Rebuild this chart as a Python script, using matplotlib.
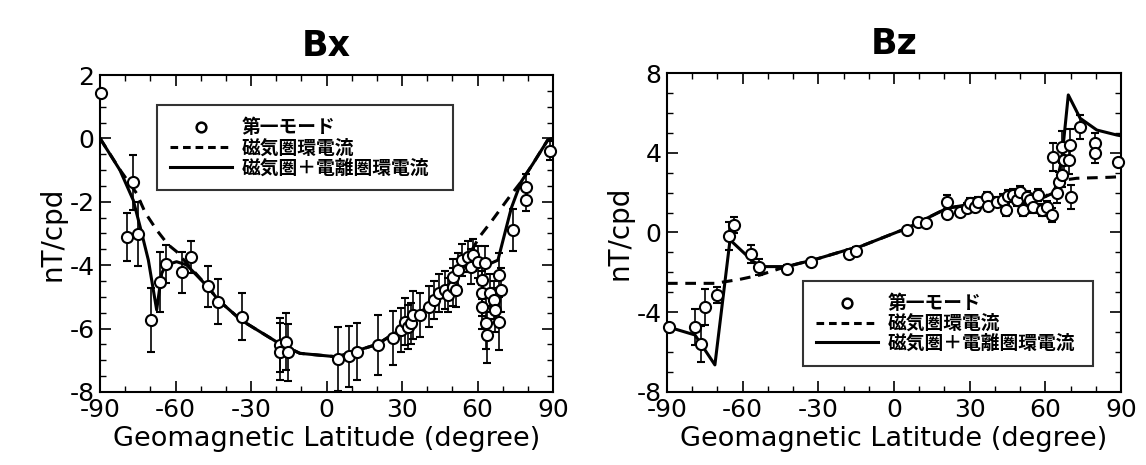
import matplotlib
matplotlib.use('Agg')
import matplotlib.pyplot as plt
from matplotlib.ticker import MultipleLocator
from matplotlib.lines import Line2D

plt.rcParams['font.family'] = ['DejaVu Sans', 'Noto Sans CJK JP']
plt.rcParams['axes.unicode_minus'] = False

# ---- Bx : observed first mode ----
bx_lat = [-89.5, -79.2, -77.1, -75.1, -69.9, -66.2, -63.9, -57.6, -53.9, -47.0,
          -43.0, -33.4, -18.6, -18.3, -16.2, -15.5, 4.6, 8.9, 11.9, 20.4,
          26.4, 29.7, 31.0, 32.4, 33.7, 34.3, 37.0, 40.9, 42.5, 44.7,
          46.9, 48.2, 50.2, 51.5, 50.2, 52.2, 53.9, 56.2, 58.2, 57.5,
          60.1, 62.8, 61.9, 61.9, 61.9, 63.4, 63.7, 65.0, 66.4, 66.8,
          68.7, 69.4, 68.7, 74.0, 79.3, 79.3, 88.8]
bx_val = [1.44, -3.12, -1.38, -3.02, -5.73, -4.52, -3.96, -4.22, -3.75, -4.66,
          -5.15, -5.62, -6.52, -6.73, -6.42, -6.75, -6.96, -6.88, -6.73, -6.52,
          -6.31, -6.04, -5.78, -5.94, -5.83, -5.57, -5.57, -5.31, -5.10, -4.89,
          -4.78, -4.94, -4.68, -4.78, -4.36, -4.15, -3.84, -3.73, -3.68, -4.05,
          -3.89, -3.94, -4.47, -4.89, -5.31, -5.83, -6.20, -4.89, -5.10, -5.41,
          -4.31, -4.78, -5.78, -2.89, -1.52, -1.94, -0.39]
bx_err = [0.0, 0.76, 0.87, 1.0, 1.0, 0.95, 0.6, 0.65, 0.5, 0.65,
          0.7, 0.75, 0.85, 0.9, 0.9, 0.9, 1.0, 0.95, 0.9, 0.95,
          0.85, 0.7, 0.75, 0.7, 0.65, 0.75, 0.7, 0.65, 0.6, 0.6,
          0.6, 0.55, 0.6, 0.55, 0.55, 0.55, 0.5, 0.5, 0.5, 0.55,
          0.5, 0.55, 0.6, 0.7, 0.7, 0.8, 0.9, 0.6, 0.6, 0.7,
          0.7, 0.7, 0.9, 0.65, 0.4, 0.35, 0.3]

# Bx model: magnetospheric ring current (dashed)
bx_mag_lat = [-90, -82, -75.5, -72, -67.5, -63, -59.6, -56, -47, -43, -34, -19, -10.6,
              4, 20, 30, 40, 50, 55, 60.8, 65.4, 72.7, 77.3, 82, 87.9, 90]
bx_mag_val = [0.0, -1.0, -1.73, -2.35, -2.89, -3.35, -3.57, -3.9, -4.7, -5.1, -5.73, -6.46, -6.78,
              -6.89, -6.5, -6.0, -5.3, -4.5, -3.9, -3.1, -2.63, -1.84, -1.37, -0.8, -0.05, 0.0]

# Bx model: magnetosphere + ionosphere ring current (solid)
bx_ion_lat = [-90, -82.1, -76.8, -74.1, -70.8, -68.6, -67.5, -65.5, -63.9, -59.6, -55.6, -47, -43,
              -34, -19, -10.6, 4, 20, 30, 40, 50, 55, 58, 62, 65, 68.1, 73.4, 77.3, 82, 87.9, 90]
bx_ion_val = [0.0, -1.0, -1.95, -2.78, -3.84, -4.89, -5.41, -4.26, -4.0, -3.89, -3.99, -4.7, -5.1,
              -5.73, -6.46, -6.78, -6.89, -6.5, -6.0, -5.3, -4.5, -4.0, -3.8, -3.85, -3.95, -3.84,
              -2.2, -1.37, -0.8, -0.05, 0.0]

# ---- Bz : observed first mode ----
bz_lat = [-89.1, -78.9, -76.7, -74.9, -70.3, -65.3, -63.4, -56.8, -53.4, -42.3,
          -33.0, -17.7, -15.1, 5.0, 9.7, 12.7, 20.9, 21.2, 26.2, 29.1,
          30.1, 32.1, 33.5, 36.8, 37.4, 40.7, 43.4, 44.4, 45.3, 47.3,
          48.7, 50.0, 51.3, 52.6, 54.0, 55.3, 57.2, 58.6, 60.5, 62.5,
          64.5, 65.6, 62.9, 66.5, 67.2, 69.5, 69.8, 66.5, 70.1, 73.8,
          79.7, 79.7, 89.0]
bz_val = [-4.75, -4.72, -5.59, -3.72, -3.13, -0.17, 0.38, -1.08, -1.75, -1.85,
          -1.46, -1.08, -0.93, 0.13, 0.54, 0.49, 1.55, 0.93, 1.05, 1.21,
          1.46, 1.30, 1.55, 1.76, 1.33, 1.55, 1.63, 1.13, 1.83, 1.88,
          1.63, 2.05, 1.13, 1.76, 1.63, 1.30, 1.88, 1.13, 1.30, 0.88,
          1.97, 2.55, 3.80, 4.31, 3.64, 3.64, 4.39, 2.88, 1.80, 5.31,
          4.47, 4.00, 3.55]
bz_err = [0.0, 0.9, 0.9, 0.9, 0.4, 0.7, 0.4, 0.45, 0.4, 0.2,
          0.15, 0.2, 0.2, 0.15, 0.15, 0.15, 0.35, 0.2, 0.2, 0.25,
          0.25, 0.25, 0.25, 0.25, 0.25, 0.25, 0.3, 0.3, 0.3, 0.3,
          0.3, 0.3, 0.3, 0.3, 0.3, 0.3, 0.3, 0.3, 0.3, 0.35,
          0.5, 0.5, 0.7, 0.8, 0.8, 0.7, 0.8, 0.6, 0.6, 0.6,
          0.5, 0.5, 0.0]

# Bz model: magnetospheric ring current (dashed)
bz_mag_lat = [-90, -71, -61.1, -53.1, -45, -37.3, -32, -18.8, -13.5, 5, 20.9, 39.4, 52.6,
              60, 64, 68.5, 72.4, 85.5, 90]
bz_mag_val = [-2.55, -2.55, -2.35, -2.13, -1.8, -1.54, -1.38, -0.88, -0.71, 0.21, 1.21, 1.63, 1.63,
              1.8, 2.2, 2.65, 2.72, 2.77, 2.8]

# Bz model: magnetosphere + ionosphere ring current (solid)
bz_ion_lat = [-90, -78.9, -71, -65, -55.8, -51.8, -42.6, -37.3, -32, -18.8, -13.5, 5, 20.9,
              39.4, 52.6, 60, 63.5, 66.5, 69.1, 73.8, 80.4, 88.3, 90]
bz_ion_val = [-4.72, -5.14, -6.64, -0.37, -1.46, -1.71, -1.71, -1.54, -1.38, -0.88, -0.71, 0.21, 1.21,
              1.63, 1.63, 1.8, 2.0, 3.64, 6.9, 5.73, 5.14, 4.89, 4.85]

labels = ['第一モード', '磁気圏環電流', '磁気圏＋電離圏環電流']

fig = plt.figure(figsize=(11.46, 4.65), dpi=100)
ax1 = fig.add_axes([0.0873, 0.157, 0.3953, 0.6817])
ax2 = fig.add_axes([0.582, 0.157, 0.3962, 0.686])


def panel(ax, lat, val, err, mlat, mval, ilat, ival, title):
    ax.plot(mlat, mval, color='k', lw=2.2, ls=(0, (3.5, 2.5)), zorder=2)
    ax.plot(ilat, ival, color='k', lw=2.2, ls='-', zorder=2)
    ax.errorbar(lat, val, yerr=err, fmt='o', color='k', mfc='white', mec='k',
                ms=8, mew=1.5, elinewidth=1.2, capsize=3, capthick=1.2, zorder=3,
                clip_on=False)
    ax.set_xlim(-90, 90)
    ax.xaxis.set_major_locator(MultipleLocator(30))
    ax.xaxis.set_minor_locator(MultipleLocator(10))
    ax.tick_params(which='both', direction='in', top=True, right=True, labelsize=18, pad=4)
    ax.tick_params(which='major', length=8, width=1.2)
    ax.tick_params(which='minor', length=4, width=1.0)
    for s in ax.spines.values():
        s.set_linewidth(1.5)
    ax.set_xlabel('Geomagnetic Latitude (degree)', fontsize=19.5, labelpad=3)
    ax.set_ylabel('nT/cpd', fontsize=20, labelpad=2)
    ax.set_title(title, fontsize=25, fontweight='bold', pad=14)


panel(ax1, bx_lat, bx_val, bx_err, bx_mag_lat, bx_mag_val, bx_ion_lat, bx_ion_val, 'Bx')
ax1.set_ylim(-8, 2)
ax1.yaxis.set_major_locator(MultipleLocator(2))
ax1.yaxis.set_minor_locator(MultipleLocator(0.5))

panel(ax2, bz_lat, bz_val, bz_err, bz_mag_lat, bz_mag_val, bz_ion_lat, bz_ion_val, 'Bz')
ax2.set_ylim(-8, 8)
ax2.yaxis.set_major_locator(MultipleLocator(4))
ax2.yaxis.set_minor_locator(MultipleLocator(1))

handles = [Line2D([], [], ls='none', marker='o', mfc='white', mec='k', ms=7, mew=1.8),
           Line2D([], [], color='k', lw=2.2, ls=(0, (2.5, 1.6))),
           Line2D([], [], color='k', lw=2.2, ls='-')]

for ax, box in [(ax1, (0.126, 0.628, 0.653, 0.284)), (ax2, (0.30, 0.078, 0.638, 0.273))]:
    leg = ax.legend(handles, labels, loc='center', bbox_to_anchor=box, mode='expand',
                    frameon=True, fancybox=False, edgecolor='k', handlelength=3.3,
                    handletextpad=0.5, labelspacing=0.05, borderaxespad=0, borderpad=0.7,
                    prop={'family': ['Noto Sans CJK JP', 'DejaVu Sans'], 'weight': 'bold', 'size': 13.5})
    leg.get_frame().set_linewidth(1.5)

fig.savefig('out.png', dpi=100)
